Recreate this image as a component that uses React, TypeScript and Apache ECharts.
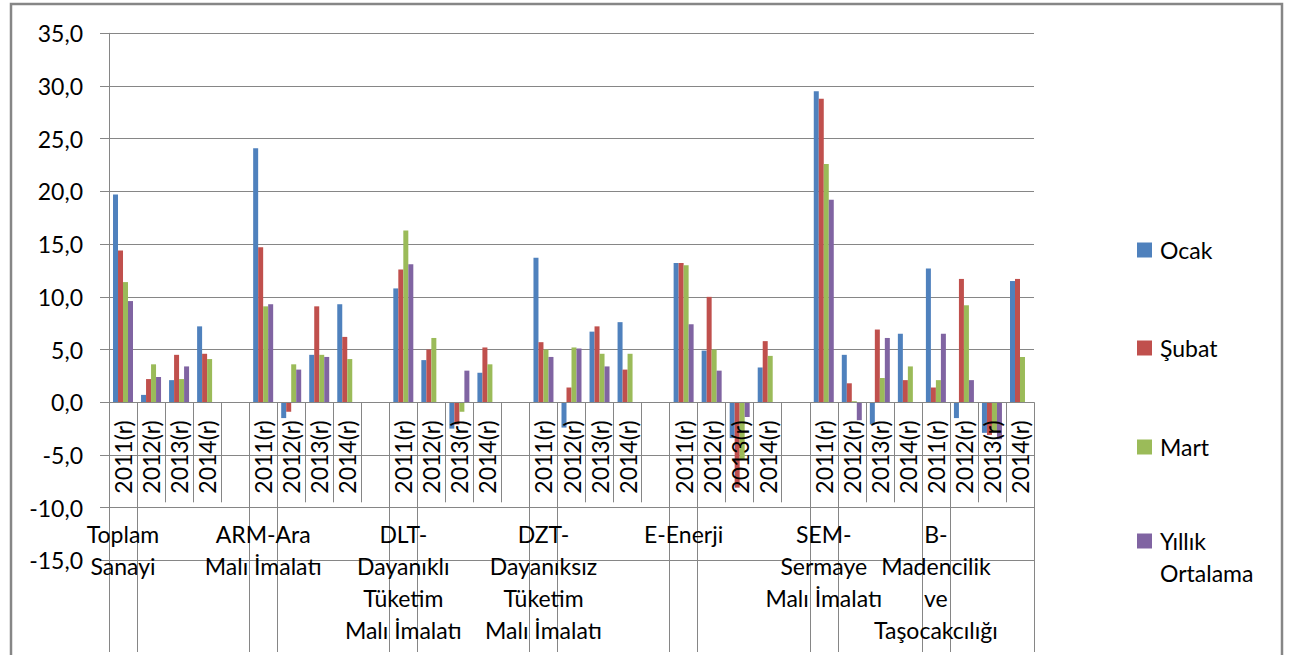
import React, { useEffect, useRef } from 'react';
import * as echarts from 'echarts';

// ---- Data ----
const slotLabels: string[] = [
  '2011(r)', '2012(r)', '2013(r)', '2014(r)', '',
  '2011(r)', '2012(r)', '2013(r)', '2014(r)', '',
  '2011(r)', '2012(r)', '2013(r)', '2014(r)', '',
  '2011(r)', '2012(r)', '2013(r)', '2014(r)', '',
  '2011(r)', '2012(r)', '2013(r)', '2014(r)', '',
  '2011(r)', '2012(r)', '2013(r)', '2014(r)',
  '2011(r)', '2012(r)', '2013(r)', '2014(r)',
];

const groupLabels: string[] = [
  'Toplam\nSanayi',
  'ARM-Ara\nMalı İmalatı',
  'DLT-\nDayanıklı\nTüketim\nMalı İmalatı',
  'DZT-\nDayanıksız\nTüketim\nMalı İmalatı',
  'E-Enerji',
  'SEM-\nSermaye\nMalı İmalatı',
  'B-\nMadencilik\nve\nTaşocakcılığı',
];
const groupStartSlots: number[] = [0, 5, 10, 15, 20, 25, 29];

const seriesNames: string[] = ['Ocak', 'Şubat', 'Mart', 'Yıllık Ortalama'];
const seriesColors: string[] = ['#4F81BD', '#C0504D', '#9BBB59', '#8064A2'];

const ocak: (number | null)[] = [
  19.7, 0.7, 2.1, 7.2, null,
  24.1, -1.5, 4.5, 9.3, null,
  10.8, 4.0, -2.5, 2.8, null,
  13.7, -2.4, 6.7, 7.6, null,
  13.2, 4.9, -3.4, 3.3, null,
  29.5, 4.5, -2.1, 6.5,
  12.7, -1.5, -2.9, 11.5,
];
const subat: (number | null)[] = [
  14.4, 2.2, 4.5, 4.6, null,
  14.7, -0.9, 9.1, 6.2, null,
  12.6, 5.0, -2.1, 5.2, null,
  5.7, 1.4, 7.2, 3.1, null,
  13.2, 10.0, -8.1, 5.8, null,
  28.8, 1.8, 6.9, 2.1,
  1.4, 11.7, -3.1, 11.7,
];
const mart: (number | null)[] = [
  11.4, 3.6, 2.2, 4.1, null,
  9.1, 3.6, 4.5, 4.1, null,
  16.3, 6.1, -0.9, 3.6, null,
  5.0, 5.2, 4.6, 4.6, null,
  13.0, 5.0, -5.4, 4.4, null,
  22.6, 0.1, 2.3, 3.4,
  2.1, 9.2, -2.8, 4.3,
];
const yillik: (number | null)[] = [
  9.6, 2.4, 3.4, null, null,
  9.3, 3.1, 4.3, null, null,
  13.1, null, 3.0, null, null,
  4.3, 5.1, 3.4, null, null,
  7.4, 3.0, -1.4, null, null,
  19.2, -1.7, 6.1, null,
  6.5, 2.1, -3.5, null,
];
const seriesData = [ocak, subat, mart, yillik];

const FONT = 'Lato, "Noto Sans", sans-serif';
const GRAY = '#868686';

export default function App() {
  const ref = useRef<HTMLDivElement>(null);

  useEffect(() => {
    if (!ref.current) return;
    const chart = echarts.init(ref.current, undefined, { renderer: 'svg' });

    const groupCats: string[] = slotLabels.map(() => '');
    groupStartSlots.forEach((s, i) => {
      groupCats[s] = groupLabels[i];
    });
    const lowerTicks = new Set<number>();
    groupStartSlots.forEach((s) => {
      lowerTicks.add(s);
      lowerTicks.add(s + 1);
    });

    const legendCenters = [246, 344, 443, 541];

    const option: any = {
      animation: false,
      backgroundColor: '#ffffff',
      textStyle: { fontFamily: FONT },
      grid: { left: 109, right: 256, top: 33.3, bottom: 94.6, containLabel: false },
      xAxis: [
        {
          type: 'category',
          data: slotLabels,
          position: 'bottom',
          offset: -158.1,
          z: 5,
          axisLine: { show: true, onZero: false, lineStyle: { color: GRAY, width: 1 } },
          axisTick: { show: true, length: 100, interval: 0, lineStyle: { color: GRAY, width: 1 } },
          axisLabel: {
            interval: 0,
            rotate: 90,
            margin: 18,
            fontSize: 23,
            color: '#000',
            fontFamily: FONT,
          },
          splitLine: { show: false },
        },
        {
          type: 'category',
          data: groupCats,
          position: 'bottom',
          offset: -58.4,
          axisLine: { show: false, onZero: false },
          axisTick: {
            show: true,
            length: 150,
            interval: (i: number) => lowerTicks.has(i),
            lineStyle: { color: GRAY, width: 1 },
          },
          axisLabel: {
            interval: 0,
            margin: 16,
            fontSize: 23,
            lineHeight: 32,
            color: '#000',
            fontFamily: FONT,
            align: 'center',
          },
          splitLine: { show: false },
        },
      ],
      yAxis: {
        type: 'value',
        min: -15,
        max: 35,
        interval: 5,
        axisLine: { show: true, lineStyle: { color: GRAY, width: 1 } },
        axisTick: { show: true, length: 9, lineStyle: { color: GRAY, width: 1 } },
        axisLabel: {
          formatter: (v: number) => v.toFixed(1).replace('.', ','),
          fontSize: 23,
          color: '#000',
          fontFamily: FONT,
          margin: 26,
        },
        splitLine: { show: true, lineStyle: { color: GRAY, width: 1 } },
      },
      legend: seriesNames.map((name, i) => {
        const multi = name === 'Yıllık Ortalama';
        return {
          data: [name],
          orient: 'vertical',
          left: 1137,
          top: multi ? legendCenters[i] - 7.5 - 40.5 : legendCenters[i] - 7.5,
          padding: 0,
          itemWidth: 15,
          itemHeight: 15,
          itemGap: 0,
          icon: 'rect',
          selectedMode: false,
          formatter: multi ? '\nYıllık\nOrtalama' : '{name}',
          textStyle: {
            fontSize: 23,
            color: '#000',
            fontFamily: FONT,
            lineHeight: multi ? 32 : 15,
            padding: [0, 0, 0, 3],
          },
        };
      }),
      series: seriesNames.map((name, i) => ({
        name,
        type: 'bar',
        xAxisIndex: 0,
        data: seriesData[i],
        barWidth: 5,
        barGap: '0%',
        itemStyle: { color: seriesColors[i] },
      })),
      graphic: [
        {
          type: 'rect',
          silent: true,
          z: 100,
          shape: { x: 11, y: 4, width: 1271, height: 720 },
          style: { fill: 'none', stroke: GRAY, lineWidth: 2.5 },
        },
      ],
    };

    chart.setOption(option);
    return () => {
      chart.dispose();
    };
  }, []);

  return (
    <div
      ref={ref}
      style={{ position: 'fixed', left: 0, top: 0, width: 1290, height: 655, background: '#fff' }}
    />
  );
}
